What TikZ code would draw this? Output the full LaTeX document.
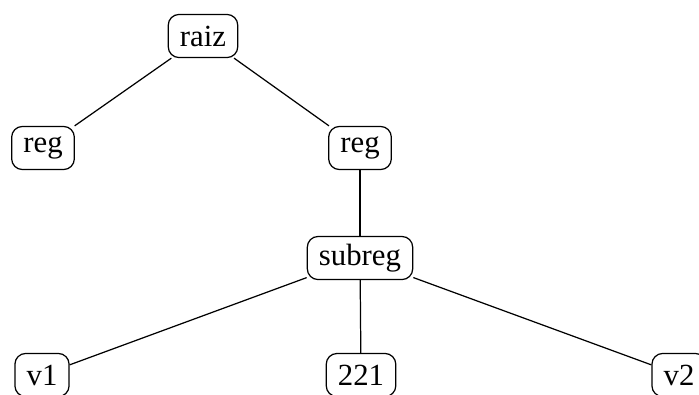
\documentclass[tikz,border=0pt]{standalone}
\usepackage{fontspec}
\setmainfont{Liberation Serif}

\begin{document}
\begin{tikzpicture}[x=0.325pt,y=-0.325pt,
  campo/.style={draw,rounded corners=3.5pt,inner xsep=3.8pt,inner ysep=0pt,minimum height=14pt}]
\useasboundingbox (0,0) rectangle (699,394);
% arvore
\node[campo] (raiz) at (203,36){raiz};
\node[campo] (reg1) at (43,148){reg};
\node[campo] (reg2) at (360,148){reg};
\node[campo] (subreg) at (360,258){subreg};
\node[campo] (v1) at (42,375){v1};
\node[campo] (val) at (361,375){221};
\node[campo] (v2) at (679,375){v2};
\draw (raiz)--(reg1);
\draw (raiz)--(reg2);
\draw (reg2)--(subreg);
\draw (subreg)--(v1);
\draw (subreg)--(val);
\draw (subreg)--(v2);
\end{tikzpicture}
\end{document}
